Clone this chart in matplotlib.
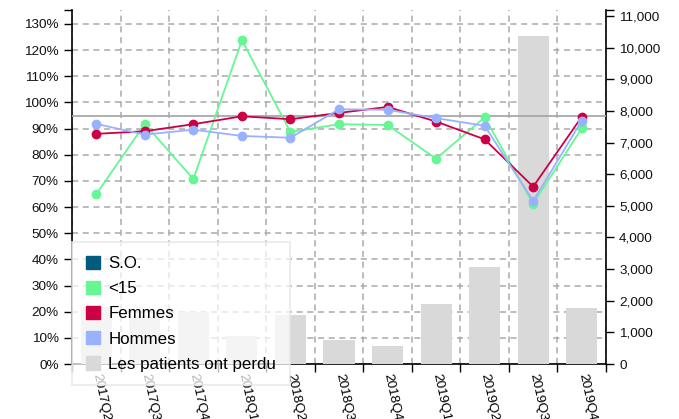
import matplotlib
matplotlib.use('Agg')
import matplotlib.pyplot as plt
from matplotlib.patches import Patch
from matplotlib.ticker import FixedLocator, FuncFormatter
import numpy as np

plt.rcParams['font.family'] = ['Liberation Sans', 'DejaVu Sans']

quarters = ['2017Q2', '2017Q3', '2017Q4', '2018Q1', '2018Q2', '2018Q3',
            '2018Q4', '2019Q1', '2019Q2', '2019Q3', '2019Q4']
lost_patients = [1800, 1520, 1650, 885, 1560, 770, 580, 1900, 3070, 10370, 1770]
under15 = [64.9, 91.8, 70.7, 123.8, 88.7, 91.7, 91.4, 78.5, 94.3, 61.3, 90.1]
femmes = [88.0, 89.0, 91.7, 94.7, 93.6, 96.0, 98.3, 92.7, 85.9, 67.8, 94.5]
hommes = [91.8, 87.7, 89.6, 87.2, 86.5, 97.4, 97.2, 94.0, 91.1, 62.3, 93.0]
target = 95
pct_ticks = list(range(0, 131, 10))
count_ticks = list(range(0, 11001, 1000))

c_so = '#005b7f'
c_u15 = '#66f794'
c_f = '#cc0044'
c_h = '#99b2ff'
c_bar = '#d9d9d9'

W, H = 679, 419
fig = plt.figure(figsize=(W / 100, H / 100), dpi=100)
L, R, B, T = 72, 606, 364, 10
ax = fig.add_axes([L / W, 1 - B / H, (R - L) / W, (B - T) / H])
axb = ax.twinx()
axl = ax.twinx()

x = np.arange(len(quarters))
pct_top = 130 * (B - T) / (B - 24)
cnt_top = 11000 * (B - T) / (B - 16)

# percent axis (left) with grid
ax.set_xlim(-0.5, len(quarters) - 0.5)
ax.set_ylim(0, pct_top)
ax.yaxis.set_major_locator(FixedLocator(pct_ticks))
ax.yaxis.set_major_formatter(FuncFormatter(lambda v, p: f'{int(round(v))}%'))
ax.yaxis.set_minor_locator(FixedLocator([pct_top]))
ax.yaxis.grid(True, which='major', ls=(0, (4, 3)), color='#aaaaaa', lw=1.1)
ax.xaxis.set_major_locator(FixedLocator(x))
ax.xaxis.set_minor_locator(FixedLocator(np.arange(-0.5, len(quarters), 1)))
ax.xaxis.grid(True, which='minor', ls=(0, (4, 3)), color='#aaaaaa', lw=1.1)
ax.set_xticklabels(quarters, rotation=-78, ha='left', va='center',
                   rotation_mode='anchor', fontsize=9.7)
ax.tick_params(axis='x', which='major', length=0, pad=7)
ax.tick_params(axis='x', which='minor', length=6, width=1, color='black')
ax.tick_params(axis='y', which='both', length=6, width=1, color='black',
               labelsize=9.7, labelcolor='#111111')
for s in ['top', 'right']:
    ax.spines[s].set_visible(False)
for s in ['left', 'bottom']:
    ax.spines[s].set_color('black')
    ax.spines[s].set_linewidth(1.2)
ax.set_axisbelow(True)

# bars (right axis)
axb.bar(x, lost_patients, width=0.64, color=c_bar, zorder=2)
axb.set_ylim(0, cnt_top)
axb.yaxis.set_major_locator(FixedLocator(count_ticks))
axb.yaxis.set_major_formatter(FuncFormatter(lambda v, p: f'{int(v):,}'))
axb.yaxis.set_minor_locator(FixedLocator([cnt_top]))
axb.tick_params(axis='y', which='both', length=6, width=1, color='black',
                labelsize=9.7, labelcolor='#111111')
for s in ['top', 'left', 'bottom']:
    axb.spines[s].set_visible(False)
axb.spines['right'].set_color('black')
axb.spines['right'].set_linewidth(1.2)

# lines
axl.set_ylim(0, pct_top)
axl.yaxis.set_visible(False)
for s in axl.spines.values():
    s.set_visible(False)
axl.axhline(target, color='#a8a8a8', lw=1.3, zorder=1)
for vals, col in [(under15, c_u15), (femmes, c_f), (hommes, c_h)]:
    axl.plot(x, vals, color=col, lw=1.3, marker='o', ms=6, zorder=3)

handles = [Patch(facecolor=c, edgecolor=c) for c in [c_so, c_u15, c_f, c_h, c_bar]]
labels = ['S.O.', '<15', 'Femmes', 'Hommes', 'Les patients ont perdu']
leg = fig.legend(handles, labels, loc='upper left',
                 bbox_to_anchor=(L / W, 1 - 242 / H), bbox_transform=fig.transFigure,
                 frameon=True, fancybox=False, framealpha=0.72, edgecolor='#e6e6e6',
                 fontsize=12.2, handlelength=0.85, handleheight=0.85,
                 handletextpad=0.5, labelspacing=0.56, borderpad=0.8,
                 borderaxespad=0)
leg.get_frame().set_linewidth(1.5)

fig.savefig('out.png', dpi=100)
